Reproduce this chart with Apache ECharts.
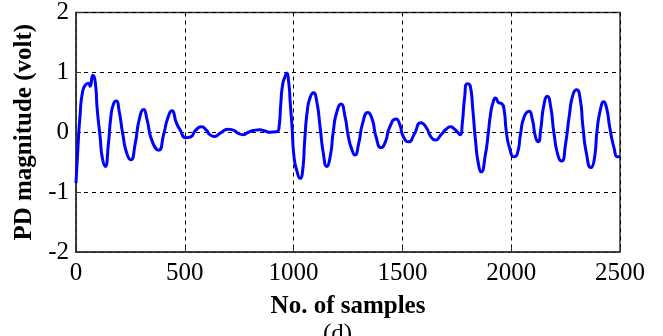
<!DOCTYPE html>
<html>
<head>
<meta charset="utf-8">
<script src="https://cdn.jsdelivr.net/npm/echarts@6/dist/echarts.min.js"></script>
<style>
html,body{margin:0;padding:0;background:#fff;}
#chart{width:663px;height:336px;}
</style>
</head>
<body>
<div id="chart"></div>
<script>
// Sample index (x) and PD magnitude in volts (y)
var samples = [0,9,18,31,46,57,65,77,88,98,111,120,134,149,160,172,185,198,215,234,252,272,291,311,326,349,380,403,423,441,461,480,503,526,549,577,600,
615,638,661,700,720,746,769,792,815,845,868,891,922,933,941,950,961,968,977,985,993,1002,1014,1030,1042,1051,1063,1076,1091,1106,1122,1137,1152,1168,1183,1198,1218,1236,
1252,1269,1282,1299,1318,1341,1361,1379,1402,1422,1441,1471,1487,1505,1530,1552,1586,1609,1632,1652,1678,1701,1720,1740,1766,1775,1786,1798,1812,1824,1836,1849,1862,
1882,1895,1905,1916,1928,1944,1956,1968,1977,1993,2013,2028,2043,2059,2082,2097,2112,2125,2135,2151,2166,2181,2197,2217,2232,2250,2266,2284,2301,2316,2330,2346,2366,2381,2396,2412,2424,2438,2453,2473,2488,2500];
var pdValues = [-0.85,-0.25,0.25,0.69,0.80,0.82,0.77,0.95,0.85,0.36,-0.08,-0.41,-0.57,-0.19,0.25,0.47,0.52,0.36,-0.03,-0.36,-0.46,-0.19,0.22,0.38,0.22,-0.14,-0.30,-0.03,0.25,0.36,0.16,0.03,-0.09,-0.08,0.03,0.09,0.03,
-0.04,-0.07,-0.02,0.05,0.04,-0.02,-0.04,0.00,0.03,0.04,0.02,0.00,0.01,0.08,0.47,0.80,0.93,0.99,0.85,0.47,0.08,-0.41,-0.63,-0.77,-0.63,-0.14,0.36,0.58,0.66,0.52,0.08,-0.36,-0.57,-0.41,0.03,0.33,0.47,0.27,
-0.08,-0.30,-0.38,-0.19,0.16,0.33,0.22,-0.08,-0.26,-0.16,0.08,0.22,0.14,-0.08,-0.16,-0.05,0.16,0.08,-0.08,-0.13,-0.04,0.05,0.09,0.05,-0.04,0.14,0.58,0.81,0.77,0.36,-0.14,-0.52,-0.66,
-0.36,0.00,0.30,0.49,0.57,0.49,0.48,0.36,0.03,-0.27,-0.41,-0.36,-0.03,0.25,0.35,0.22,-0.08,-0.16,0.03,0.47,0.60,0.44,-0.03,-0.41,-0.48,-0.19,0.25,0.63,0.71,0.58,0.08,-0.36,-0.59,-0.47,0.08,0.41,0.51,0.41,0.08,-0.27,-0.41,-0.41];
var xTicks = [0,500,1000,1500,2000,2500];
var yTicks = [-2,-1,0,1,2];
var xTitle = 'No. of samples';
var yTitle = 'PD magnitude (volt)';
var caption = '(d)';

var data = samples.map(function(s,i){return [s,pdValues[i]];});
var serif = '"Liberation Serif","Times New Roman",serif';
var chart = echarts.init(document.getElementById('chart'), null, {renderer:'canvas'});
chart.setOption({
  animation:false,
  backgroundColor:'#fff',
  grid:{left:76,right:43,top:8,bottom:84,show:true,borderColor:'#333',borderWidth:1.5,backgroundColor:'transparent'},
  xAxis:{
    type:'value',min:xTicks[0],max:xTicks[xTicks.length-1],interval:xTicks[1]-xTicks[0],
    name:xTitle,nameLocation:'middle',nameGap:42,
    nameTextStyle:{fontFamily:serif,fontWeight:'bold',fontSize:25,color:'#000'},
    axisLine:{show:true,onZero:false,lineStyle:{color:'#333',width:1.5}},
    axisTick:{show:true,inside:true,length:5,lineStyle:{color:'#333'}},
    axisLabel:{fontFamily:serif,fontSize:25,color:'#000',margin:9,formatter:function(v){return String(v);}},
    splitLine:{show:true,lineStyle:{color:'#000',type:[4,4],width:1}}
  },
  yAxis:{
    type:'value',min:yTicks[0],max:yTicks[yTicks.length-1],interval:1,
    name:yTitle,nameLocation:'middle',nameGap:37,
    nameTextStyle:{fontFamily:serif,fontWeight:'bold',fontSize:25,color:'#000'},
    axisLine:{show:true,onZero:false,lineStyle:{color:'#333',width:1.5}},
    axisTick:{show:true,inside:true,length:5,lineStyle:{color:'#333'}},
    axisLabel:{fontFamily:serif,fontSize:25,color:'#000',margin:7,formatter:function(v){return String(v);}},
    splitLine:{show:true,lineStyle:{color:'#000',type:[4,4],width:1}}
  },
  graphic:[{type:'text',left:323,top:322,style:{text:caption,font:'25px '+serif,fill:'#000'}}],
  series:[{
    type:'line',data:data,showSymbol:false,smooth:0.6,
    lineStyle:{color:'#0000ff',width:3},
    clip:true
  }]
});
</script>
</body>
</html>
